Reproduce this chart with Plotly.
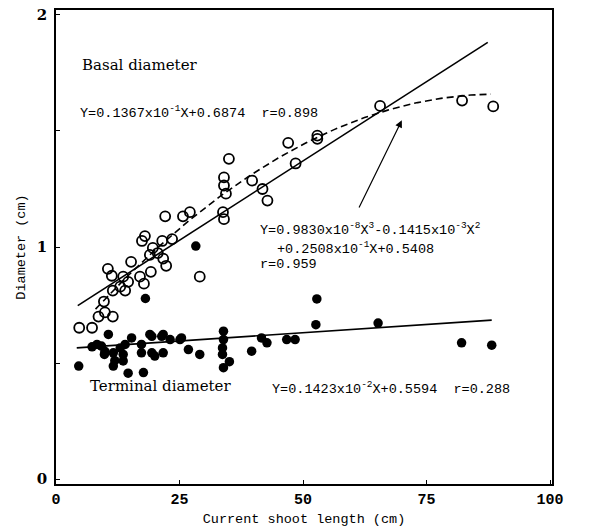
import numpy as np
import plotly.graph_objects as go

# ---- data ----
basal_x = [4.7, 7.3, 8.6, 9.9, 11.5, 9.7, 10.5, 11.3, 11.5, 13.0, 14.0, 13.6, 14.6, 15.2,
           17.0, 17.8, 19.2, 18.0, 17.4, 19.6, 20.6, 19.0, 21.7, 22.3, 21.5, 23.5, 22.1,
           25.7, 27.1, 29.1, 33.8, 34.0, 34.4, 34.0, 34.0, 35.0, 39.7, 47.0, 52.9, 52.9,
           48.5, 41.8, 42.8, 65.6, 82.2, 88.5]
basal_y = [0.652, 0.652, 0.70, 0.718, 0.70, 0.765, 0.906, 0.876, 0.812, 0.829, 0.812, 0.872,
           0.85, 0.936, 0.872, 0.842, 0.893, 1.047, 1.026, 0.996, 0.974, 0.966, 0.95, 0.919,
           1.026, 1.034, 1.132, 1.132, 1.15, 0.872, 1.15, 1.12, 1.23, 1.265, 1.30, 1.38,
           1.286, 1.449, 1.48, 1.466, 1.36, 1.25, 1.20, 1.608, 1.631, 1.606]

term_x = [4.6, 7.3, 8.3, 9.2, 9.9, 9.8, 10.6, 11.6, 11.9, 11.6, 13.0, 13.6, 13.6, 14.0,
          14.6, 15.3, 17.3, 17.3, 17.7, 18.1, 19.0, 19.4, 19.4, 20.0, 21.4, 21.7, 21.7,
          23.1, 25.1, 25.4, 26.8, 28.3, 29.1, 33.9, 33.9, 33.7, 33.7, 35.1, 33.9, 39.6,
          41.6, 42.7, 46.7, 48.4, 52.8, 52.6, 65.2, 82.1, 88.2]
term_y = [0.487, 0.57, 0.58, 0.573, 0.55, 0.537, 0.623, 0.544, 0.51, 0.487, 0.565, 0.537,
          0.509, 0.58, 0.456, 0.608, 0.58, 0.544, 0.459, 0.778, 0.623, 0.615, 0.544, 0.53,
          0.615, 0.623, 0.544, 0.601, 0.601, 0.608, 0.558, 1.004, 0.537, 0.637, 0.601,
          0.565, 0.537, 0.506, 0.48, 0.551, 0.608, 0.587, 0.601, 0.601, 0.776, 0.665,
          0.672, 0.587, 0.577]

# regression coefficients as printed
basal_lin = [0.1367e-1, 0.6874]                         # slope, intercept
basal_cubic = [0.9830e-8, -0.1415e-3, 0.2508e-1, 0.5408]  # x^3, x^2, x, c
term_lin = [0.1423e-2, 0.5594]
basal_lin_range = [4.4, 87.4]
basal_cubic_range = [8.0, 88.0]
term_lin_range = [4.2, 88.2]

x_ticks = [0, 25, 50, 75, 100]
y_ticks = [0, 0.5, 1, 1.5, 2]
y_ticktext = ["0", "", "1", "", "2"]

MONO = "Liberation Mono"
SERIF = "DejaVu Serif"

fig = go.Figure()

xl = np.linspace(*basal_lin_range, 50)
fig.add_trace(go.Scatter(x=xl, y=np.polyval(basal_lin, xl), mode="lines",
                         line=dict(color="black", width=1.6), showlegend=False))
xc = np.linspace(*basal_cubic_range, 120)
fig.add_trace(go.Scatter(x=xc, y=np.polyval(basal_cubic, xc), mode="lines",
                         line=dict(color="black", width=1.6, dash="7px,4px"), showlegend=False))
xt = np.linspace(*term_lin_range, 50)
fig.add_trace(go.Scatter(x=xt, y=np.polyval(term_lin, xt), mode="lines",
                         line=dict(color="black", width=1.6), showlegend=False))

fig.add_trace(go.Scatter(x=basal_x, y=basal_y, mode="markers",
                         marker=dict(symbol="circle-open", size=10, color="black",
                                     line=dict(width=1.8, color="black")),
                         showlegend=False))
fig.add_trace(go.Scatter(x=term_x, y=term_y, mode="markers",
                         marker=dict(symbol="circle", size=9.5, color="black"),
                         showlegend=False))

def note(x, y, text, font=MONO, size=13.5):
    fig.add_annotation(x=x, y=y, xref="x", yref="y", text=text, showarrow=False,
                       xanchor="left", yanchor="middle",
                       font=dict(family=font, size=size, color="black"))

note(4.9, 1.786, "Basal diameter", SERIF, 15)
note(4.45, 1.581, "Y=0.1367x10<sup>-1</sup>X+0.6874  r=0.898")
note(40.9, 1.077, "Y=0.9830x10<sup>-8</sup>X<sup>3</sup>-0.1415x10<sup>-3</sup>X<sup>2</sup>")
note(44.3, 0.996, "+0.2508x10<sup>-1</sup>X+0.5408")
note(40.9, 0.923, "r=0.959")
note(6.5, 0.402, "Terminal diameter", SERIF, 15)
note(43.3, 0.393, "Y=0.1423x10<sup>-2</sup>X+0.5594  r=0.288")

fig.add_annotation(x=70.0, y=1.546, ax=61.2, ay=1.164, xref="x", yref="y",
                   axref="x", ayref="y", text="", showarrow=True, arrowhead=2,
                   arrowsize=1.2, arrowwidth=1.2, arrowcolor="black")

fig.update_xaxes(range=[0, 100.4], tickvals=x_ticks, ticks="inside", ticklen=4,
                 tickcolor="black", showline=True, mirror=True, linecolor="black",
                 linewidth=1.5, showgrid=False, zeroline=False,
                 tickfont=dict(family=MONO, size=15, color="black", weight="bold"),
                 title=dict(text="Current shoot length (cm)", standoff=6,
                            font=dict(family=MONO, size=13.5, color="black")))
fig.update_yaxes(range=[-0.0214, 2.0214], tickvals=y_ticks, ticktext=y_ticktext,
                 ticks="inside", ticklen=4, tickcolor="black", showline=True, mirror=True,
                 linecolor="black", linewidth=1.5, showgrid=False, zeroline=False,
                 ticklabelstandoff=4,
                 tickfont=dict(family=SERIF, size=15, color="black", weight="bold"),
                 title=dict(text="Diameter (cm)", standoff=8,
                            font=dict(family=MONO, size=13.5, color="black")))

fig.update_layout(width=590, height=530, margin=dict(l=56, r=38, t=6, b=46),
                  paper_bgcolor="white", plot_bgcolor="white")

fig.write_html("out.html")
